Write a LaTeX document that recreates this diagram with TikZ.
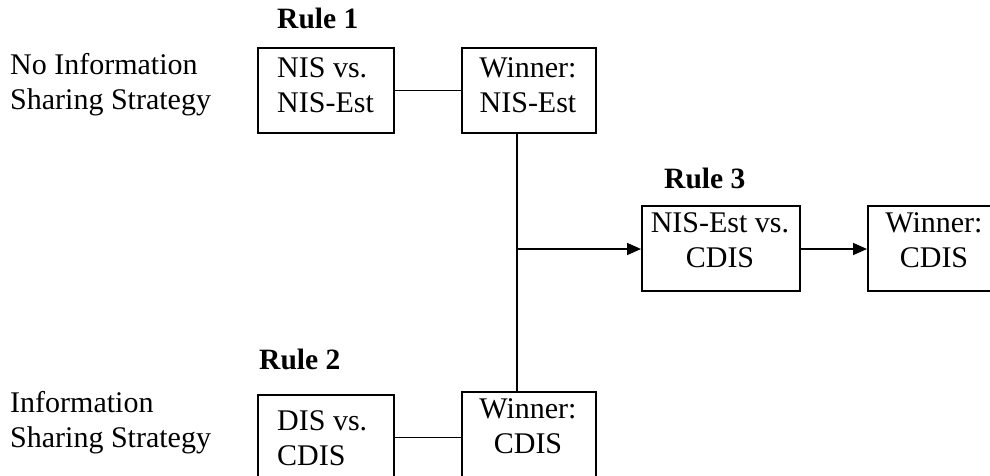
\documentclass[tikz,border=0pt]{standalone}
\usepackage{fontspec}
\setmainfont{Liberation Serif}
\usetikzlibrary{arrows.meta}
\begin{document}
\begin{tikzpicture}[x=1pt,y=-1pt,
  box/.style={draw, line width=1.6pt, minimum width=#1, minimum height=85pt,
    inner sep=0pt, anchor=north west},
  % multi-line texts are placed by the baseline of their last line
  txt/.style={inner sep=0pt, font=\fontsize{30}{34.5}\selectfont, align=left, anchor=base west},
  ctxt/.style={inner sep=0pt, font=\fontsize{30}{34.5}\selectfont, align=center, anchor=base},
  rulehead/.style={inner sep=0pt, font=\fontsize{29.5}{34}\selectfont\bfseries, anchor=base west},
  link/.style={line width=1.6pt},
  flow/.style={line width=1.6pt, -{Triangle[length=14pt,width=12pt]}}
]
\useasboundingbox (0,0) rectangle (990,475);
\clip (0,0) rectangle (990,475);

% strategy labels
\node[txt] (nolab) at (10,109) {No Information\\Sharing Strategy};
\node[txt] (islab) at (10,447) {Information\\Sharing Strategy};

% rule headings
\node[rulehead] (r1) at (277,28) {Rule 1};
\node[rulehead] (r3) at (664,188) {Rule 3};
\node[rulehead] (r2) at (259,369) {Rule 2};

% Rule 1
\node[box=136pt] (b1) at (257,47) {};
\node[txt] (b1t) at (277,112) {NIS vs.\\NIS-Est};
\node[box=134pt] (w1) at (461,47) {};
\node[ctxt] (w1t) at (528,112) {Winner:\\NIS-Est};

% Rule 2
\node[box=136pt] (b2) at (257,394) {};
\node[txt] (b2t) at (277,465) {DIS vs.\\CDIS};
\node[box=134pt] (w2) at (461,391) {};
\node[ctxt] (w2t) at (528,453) {Winner:\\CDIS};

% Rule 3
\node[box=158pt] (b3) at (641,205) {};
\node[ctxt] (b3t) at (720,267) {NIS-Est vs.\\CDIS};
\node[box=134pt] (w3) at (867,205) {};
\node[ctxt] (w3t) at (934,267) {Winner:\\CDIS};

% connectors
\coordinate (j) at (517,249);
\draw[link] (b1.east) -- (b1.east -| w1.west);
\draw[link] (b2.east) -- (b2.east -| w2.west);
\draw[link] (w1.south -| j) -- (w2.north -| j);
\draw[flow] (j) -- (j -| b3.west);
\draw[flow] (b3.east |- j) -- (j -| w3.west);
\end{tikzpicture}
\end{document}
